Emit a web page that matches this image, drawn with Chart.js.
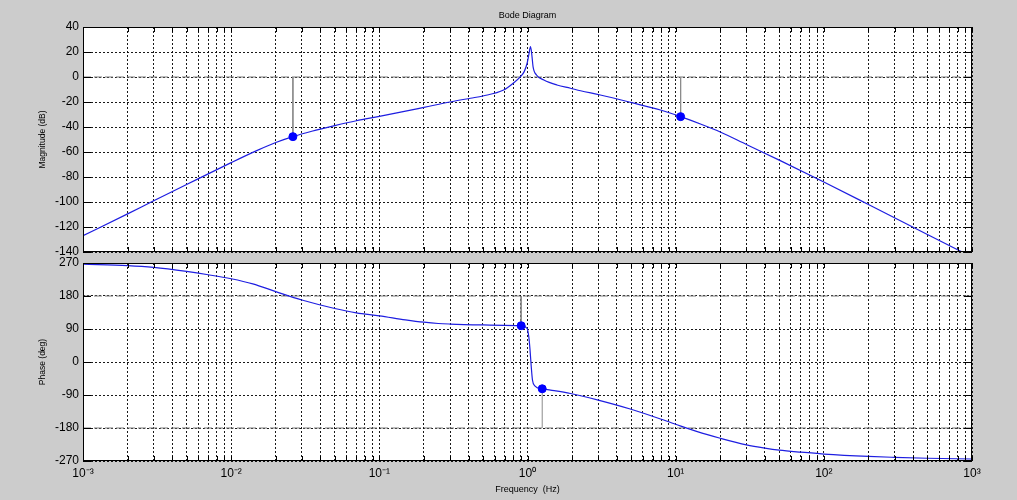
<!DOCTYPE html>
<html>
<head>
<meta charset="utf-8">
<script src="https://cdn.jsdelivr.net/npm/chart.js@4.4.0/dist/chart.umd.min.js"></script>
<style>
  html, body { margin: 0; padding: 0; background: #cccccc; }
  #wrap { position: relative; width: 1017px; height: 500px; overflow: hidden; }
  #mag { position: absolute; left: 0; top: 0; }
  #phase { position: absolute; left: 0; top: 250px; }
</style>
</head>
<body>
<div id="wrap">
  <canvas id="mag" width="1017" height="270"></canvas>
  <canvas id="phase" width="1017" height="250"></canvas>
</div>
<script>
// magnitude curve
const magFreq = [0.001, 0.002, 0.003, 0.005, 0.01, 0.015, 0.02, 0.0261, 0.035, 0.05, 0.07, 0.1,
  0.2, 0.3, 0.412, 0.5, 0.69, 0.8, 0.897, 0.95, 0.994, 1.02, 1.048, 1.07, 1.09, 1.15, 1.29, 1.58, 1.95, 2.28, 3.1, 4.97,
  7.9, 10.8, 15, 20, 30, 50, 100, 200, 500, 1000];
const magDb = [-127, -109.5, -99, -86, -68.5, -58.7, -52.4, -47.7, -43.4, -38.9, -35, -31.5,
  -24.3, -20, -17, -15.2, -10.4, -5, 0.3, 4.3, 11, 17.6, 24.3, 17.6, 8.3, 1.6, -2.4, -6.4, -9, -11, -14.4, -20.3,
  -26.4, -31.7, -38, -44, -54, -66.5, -84, -102, -126, -144];

// phase curve
const phaseFreq = [0.001, 0.002, 0.003, 0.005, 0.007, 0.01, 0.014, 0.02, 0.03, 0.05, 0.07, 0.1, 0.15, 0.2, 0.25, 0.3,
  0.5, 0.7, 0.906, 0.994, 1.02, 1.04, 1.06, 1.08, 1.12, 1.257, 1.43, 1.95, 3, 5, 9.25, 14, 20, 30, 40, 50, 70, 100,
  200, 300, 500, 1000];
const phaseDeg = [267, 263, 258, 247, 238, 227, 213, 192, 169, 146, 134, 126, 115, 108.5, 105, 103.5,
  101, 100, 99, 92, 69, 33, -13, -49, -65, -73, -76.5, -86, -104, -129, -165, -190, -208, -226, -235, -240.5, -246, -251,
  -257.5, -260, -262.5, -264.5];

// margin markers
const magMarkFreq = [0.0261, 10.8];
const magMarkDb = [-47.7, -31.7];
const phaseMarkFreq = [0.906, 1.257];
const phaseMarkDeg = [99, -73];
const phaseStemEnd = [180, -180];

// axes
const xDecades = [0.001, 0.01, 0.1, 1, 10, 100, 1000];
const xTickLabels = ['10\u207B\u00B3', '10\u207B\u00B2', '10\u207B\u00B9', '10\u2070', '10\u00B9', '10\u00B2', '10\u00B3'];
const magTicks = [-140, -120, -100, -80, -60, -40, -20, 0, 20, 40];
const phaseTicks = [-270, -180, -90, 0, 90, 180, 270];

Chart.defaults.font.family = '"Liberation Sans", Arial, Helvetica, sans-serif';
Chart.defaults.color = '#000';

const curveColor = 'rgb(30,30,225)';
const stemColor = '#8c8c8c';
const gridColor = 'rgba(0,0,0,0.9)';

// log grid: 1..9 times each decade
const gridValues = [];
xDecades.forEach((d, i) => {
  if (i === xDecades.length - 1) { gridValues.push(d); return; }
  for (let k = 1; k < 10; k++) gridValues.push(+(d * k).toPrecision(3));
});

const boxPlugin = {
  id: 'matlabBox',
  beforeDraw(chart) {
    const { ctx, chartArea: a } = chart;
    ctx.save();
    ctx.fillStyle = '#ffffff';
    ctx.fillRect(a.left, a.top, a.right - a.left, a.bottom - a.top);
    ctx.restore();
  },
  afterDraw(chart) {
    const { ctx, chartArea: a, scales } = chart;
    ctx.save();
    ctx.strokeStyle = '#000';
    ctx.lineWidth = 1;
    ctx.strokeRect(Math.round(a.left) + 0.5, Math.round(a.top) + 0.5,
      Math.round(a.right - a.left) - 1, Math.round(a.bottom - a.top) - 1);
    ctx.beginPath();
    scales.x.ticks.forEach(t => {
      const px = Math.round(scales.x.getPixelForValue(t.value)) + 0.5;
      ctx.moveTo(px, a.top); ctx.lineTo(px, a.top + 5);
      ctx.moveTo(px, a.bottom); ctx.lineTo(px, a.bottom - 5);
    });
    scales.y.ticks.forEach(t => {
      const py = Math.round(scales.y.getPixelForValue(t.value)) + 0.5;
      ctx.moveTo(a.left, py); ctx.lineTo(a.left + 8, py);
      ctx.moveTo(a.right, py); ctx.lineTo(a.right - 8, py);
    });
    ctx.stroke();
    ctx.restore();
  }
};

function pts(xs, ys) {
  return xs.map((x, i) => ({ x: x, y: ys[i] }));
}

function refLine(y) {
  return {
    data: [{ x: 0.001, y: y }, { x: 1000, y: y }],
    borderColor: '#7a7a7a', borderWidth: 1, borderDash: [8, 3],
    pointRadius: 0, order: 4
  };
}

function stem(x, y0, y1) {
  return {
    data: [{ x: x, y: y0 }, { x: x, y: y1 }],
    borderColor: stemColor, borderWidth: 1, pointRadius: 0, order: 3
  };
}

function xAxis(showLabels, height) {
  return {
    type: 'logarithmic',
    min: 0.001,
    max: 1000,
    afterBuildTicks: s => { s.ticks = gridValues.map(v => ({ value: v })); },
    afterFit: s => { s.height = height; },
    grid: { color: gridColor, drawTicks: false, lineWidth: 1 },
    border: { display: false, dash: [2, 2] },
    ticks: {
      display: showLabels,
      autoSkip: false,
      maxRotation: 0,
      padding: 5,
      font: { size: 12 },
      callback: v => {
        const i = xDecades.findIndex(d => Math.abs(d - v) / d < 1e-6);
        return i >= 0 ? xTickLabels[i] : '';
      }
    },
    title: showLabels ? {
      display: true, text: 'Frequency  (Hz)', font: { size: 9 }, padding: { top: 0, bottom: 4.6 }
    } : { display: false }
  };
}

function yAxis(tickList, label) {
  return {
    type: 'linear',
    min: tickList[0],
    max: tickList[tickList.length - 1],
    afterBuildTicks: s => { s.ticks = tickList.map(v => ({ value: v })); },
    afterFit: s => { s.width = 83; },
    grid: { color: gridColor, drawTicks: false, lineWidth: 1 },
    border: { display: false, dash: [2, 2] },
    ticks: { padding: 4, font: { size: 12 } },
    title: { display: true, text: label, font: { size: 8.5 }, padding: { top: 37.9, bottom: 0 } }
  };
}

const common = {
  responsive: false,
  animation: false,
  plugins: { legend: { display: false }, tooltip: { enabled: false } }
};

new Chart(document.getElementById('mag'), {
  type: 'line',
  data: {
    datasets: [
      { data: pts(magFreq, magDb), borderColor: curveColor, borderWidth: 1.2, pointRadius: 0,
        cubicInterpolationMode: 'monotone', order: 1 },
      { data: pts(magMarkFreq, magMarkDb), showLine: false, pointRadius: 4,
        pointBackgroundColor: '#0000ff', pointBorderColor: '#0000ff', order: 0 },
      stem(magMarkFreq[0], 0, magMarkDb[0]),
      stem(magMarkFreq[1], 0, magMarkDb[1]),
      refLine(0)
    ]
  },
  options: Object.assign({}, common, {
    layout: { padding: { left: 0, right: 45, top: 0, bottom: 0 } },
    plugins: {
      legend: { display: false },
      tooltip: { enabled: false },
      title: { display: true, text: 'Bode Diagram', fullSize: false, font: { size: 9, weight: 'normal' },
        padding: { top: 10, bottom: 6.2 } }
    },
    scales: { x: xAxis(false, 18), y: yAxis(magTicks, 'Magnitude (dB)') }
  }),
  plugins: [boxPlugin]
});

new Chart(document.getElementById('phase'), {
  type: 'line',
  data: {
    datasets: [
      { data: pts(phaseFreq, phaseDeg), borderColor: curveColor, borderWidth: 1.2, pointRadius: 0,
        cubicInterpolationMode: 'monotone', order: 1 },
      { data: pts(phaseMarkFreq, phaseMarkDeg), showLine: false, pointRadius: 4,
        pointBackgroundColor: '#0000ff', pointBorderColor: '#0000ff', order: 0 },
      stem(phaseMarkFreq[0], phaseStemEnd[0], phaseMarkDeg[0]),
      stem(phaseMarkFreq[1], phaseStemEnd[1], phaseMarkDeg[1]),
      refLine(180),
      refLine(-180)
    ]
  },
  options: Object.assign({}, common, {
    layout: { padding: { left: 0, right: 45, top: 13, bottom: 0 } },
    scales: { x: xAxis(true, 39), y: yAxis(phaseTicks, 'Phase (deg)') }
  }),
  plugins: [boxPlugin]
});
</script>
</body>
</html>
